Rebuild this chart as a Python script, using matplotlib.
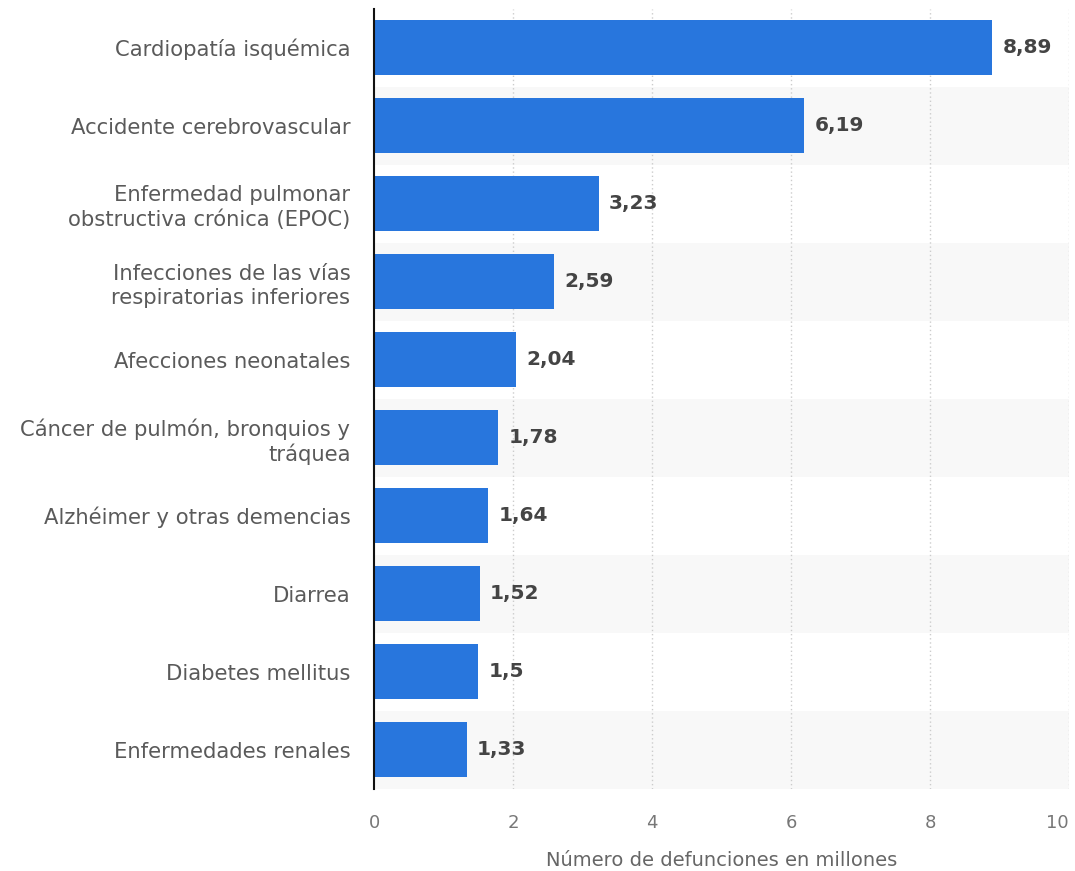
import matplotlib
matplotlib.use("Agg")
from matplotlib import pyplot as plt

causes = [
    "Cardiopatía isquémica",
    "Accidente cerebrovascular",
    "Enfermedad pulmonar\nobstructiva crónica (EPOC)",
    "Infecciones de las vías\nrespiratorias inferiores",
    "Afecciones neonatales",
    "Cáncer de pulmón, bronquios y\ntráquea",
    "Alzhéimer y otras demencias",
    "Diarrea",
    "Diabetes mellitus",
    "Enfermedades renales",
]
deaths = [8.89, 6.19, 3.23, 2.59, 2.04, 1.78, 1.64, 1.52, 1.5, 1.33]
x_ticks = [0, 2, 4, 6, 8, 10]

fig = plt.figure(figsize=(10.75, 8.71), dpi=100)
ax = fig.add_axes([0.348, 0.0947, 0.6465, 0.8953])

pos = list(range(len(causes)))
for i in pos:
    if i % 2 == 1:
        ax.axhspan(i - 0.5, i + 0.5, color="#f8f8f8", zorder=0, lw=0)

ax.barh(pos, deaths, height=0.705, color="#2876dd", zorder=3)
for y, v in zip(pos, deaths):
    ax.text(v + 0.15, y, f"{v:g}".replace(".", ","), va="center", ha="left",
            fontsize=14.5, fontweight="bold", color="#444444", zorder=4)

ax.set_ylim(len(causes) - 0.5, -0.5)
ax.set_xlim(0, 10)
ax.set_xticks(x_ticks)
ax.set_xticklabels([str(t) for t in x_ticks])
ax.set_yticks(pos)
ax.set_yticklabels(causes, fontsize=15.2, color="#5a5a5a", linespacing=1.25)
ax.tick_params(axis="x", length=0, pad=18, labelsize=13, labelcolor="#777777")
ax.tick_params(axis="y", length=0, pad=17)
ax.get_xticklabels()[-1].set_horizontalalignment("right")

for g in x_ticks[1:]:
    ax.axvline(g, color="#cccccc", lw=1, ls=(0, (1, 2)), zorder=1)

for s in ["top", "right", "bottom"]:
    ax.spines[s].set_visible(False)
ax.spines["left"].set_color("#111111")
ax.spines["left"].set_linewidth(1.5)
ax.spines["left"].set_zorder(5)

ax.set_xlabel("Número de defunciones en millones", fontsize=14, color="#666666", labelpad=14)

fig.savefig("out.png", dpi=100)
